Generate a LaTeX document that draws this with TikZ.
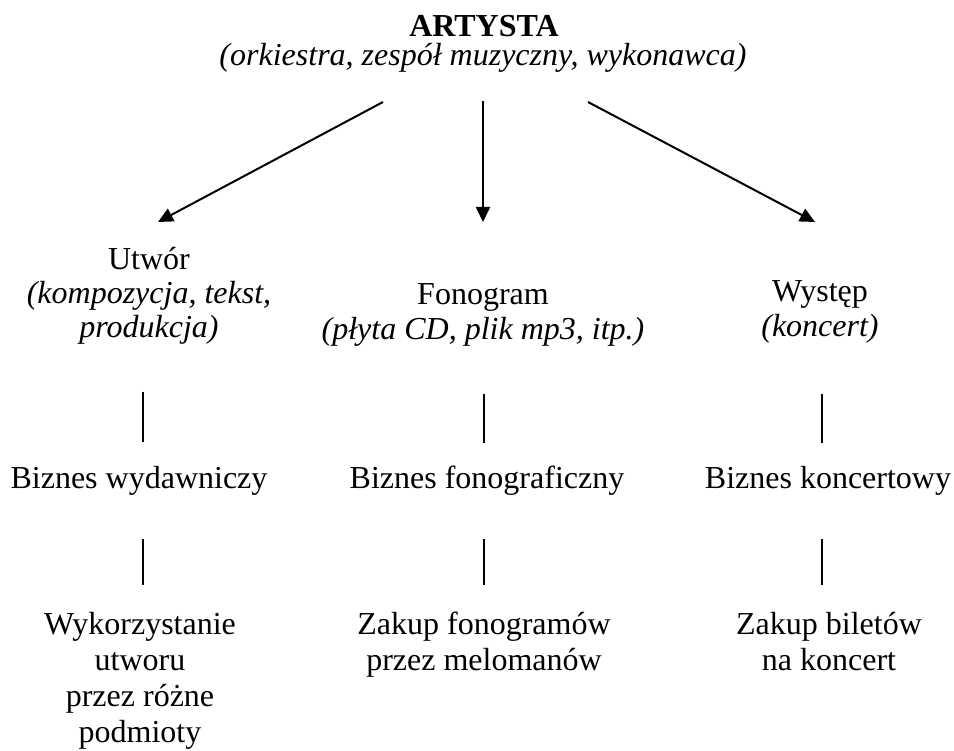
\documentclass[tikz,border=0pt]{standalone}
\usepackage{fontspec}
\setmainfont{Liberation Serif}
\usetikzlibrary{arrows.meta}

% multi-line labels are placed by the baseline of their last line
\tikzset{
  lbl/.style={anchor=base, inner sep=0pt, align=center,
    font=\fontsize{32}{35}\selectfont},
  lblwide/.style={lbl, font=\fontsize{32}{36}\selectfont},
  arrowline/.style={line width=2pt, -{Triangle[length=15pt,width=14pt]}},
  tick/.style={line width=1.3pt}
}

\begin{document}
\begin{tikzpicture}[x=1pt,y=-1pt]
\useasboundingbox (0,0) rectangle (954,751);

% top heading
\node[lbl] (artysta) at (484,37) {\textbf{ARTYSTA}};
\node[lbl] (artsub) at (483,66) {\textit{(orkiestra, zespół muzyczny, wykonawca)}};

% three branches
\node[lbl, font=\fontsize{32}{34}\selectfont] (utwor) at (149,338)
  {Utwór\\\textit{(kompozycja, tekst,}\\\textit{produkcja)}};
\node[lbl] (fonogram) at (483,340)
  {Fonogram\\\textit{(płyta CD, plik mp3, itp.)}};
\node[lbl] (wystep) at (820,337)
  {Występ\\\textit{(koncert)}};

% businesses
\node[lbl] (biz1) at (139,488) {Biznes wydawniczy};
\node[lbl] (biz2) at (487,488) {Biznes fonograficzny};
\node[lbl] (biz3) at (828,488) {Biznes koncertowy};

% end users
\node[lblwide] (use1) at (140,742) {Wykorzystanie\\utworu\\przez różne\\podmioty};
\node[lblwide] (use2) at (484,670) {Zakup fonogramów\\przez melomanów};
\node[lblwide] (use3) at (829,670) {Zakup biletów\\na koncert};

% arrow end points
\coordinate (aL0) at (383,102);
\coordinate (aL1) at (158,222);
\coordinate (aM0) at (483,101);
\coordinate (aM1) at (483,222);
\coordinate (aR0) at (588,102);
\coordinate (aR1) at (815,222);

\draw[arrowline] (aL0) -- (aL1);
\draw[arrowline] (aM0) -- (aM1);
\draw[arrowline] (aR0) -- (aR1);

% short vertical connectors
\coordinate (t1a) at (143,392); \coordinate (t1b) at (143,442);
\coordinate (t2a) at (484,394); \coordinate (t2b) at (484,443);
\coordinate (t3a) at (822,394); \coordinate (t3b) at (822,443);
\coordinate (u1a) at (143,539); \coordinate (u1b) at (143,585);
\coordinate (u2a) at (484,539); \coordinate (u2b) at (484,585);
\coordinate (u3a) at (822,539); \coordinate (u3b) at (822,585);

\draw[tick] (t1a) -- (t1b);
\draw[tick] (t2a) -- (t2b);
\draw[tick] (t3a) -- (t3b);
\draw[tick] (u1a) -- (u1b);
\draw[tick] (u2a) -- (u2b);
\draw[tick] (u3a) -- (u3b);
\end{tikzpicture}
\end{document}
